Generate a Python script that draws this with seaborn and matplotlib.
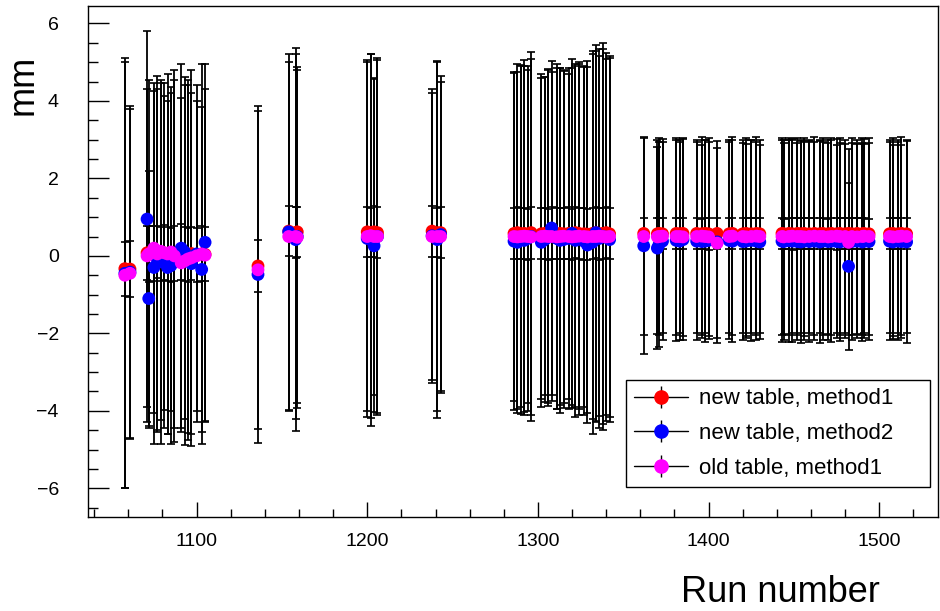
import numpy as np
import pandas as pd
import matplotlib
matplotlib.use("Agg")
import matplotlib.pyplot as plt
from matplotlib.ticker import MultipleLocator
import seaborn as sns

# ---------------- data ----------------
runs = [
    1058, 1061,
    1071, 1072, 1075, 1077, 1079, 1081, 1083, 1085, 1087, 1091, 1093, 1095, 1097, 1100, 1103, 1105,
    1136,
    1154, 1158, 1159,
    1200, 1202, 1204, 1206,
    1238, 1241, 1243,
    1286, 1288, 1290, 1292, 1294, 1296, 1302, 1304, 1306, 1308, 1311, 1313,
    1315, 1318, 1320, 1322, 1324, 1327, 1329, 1332, 1334, 1336, 1338, 1340, 1342,
    1362, 1370, 1371, 1373, 1381, 1383, 1385,
    1393, 1396, 1398, 1400, 1405,
    1412, 1414, 1420, 1422, 1425, 1428, 1430,
    1443, 1444, 1447, 1449, 1452, 1454, 1456, 1459, 1462, 1465, 1467,
    1470, 1472, 1475, 1477, 1480, 1482, 1484, 1487, 1490, 1491, 1494,
    1506, 1508, 1511, 1513, 1516,
]

red_y = [
    -0.33, -0.34,
    0.08, 0.05, 0.06, 0.10, 0.05, 0.08, 0.04, 0.02, 0.06, 0.10, 0.05, 0.03, 0.06, 0.02, 0.05, 0.04,
    -0.26,
    0.64, 0.60, 0.62,
    0.62, 0.60, 0.62, 0.60,
    0.64, 0.60, 0.60,
    0.58, 0.60, 0.57, 0.58, 0.56, 0.60, 0.57, 0.58, 0.56, 0.60, 0.57, 0.58,
    0.57, 0.58, 0.56, 0.60, 0.58, 0.57, 0.56, 0.58, 0.60, 0.57, 0.58, 0.60, 0.57,
    0.58, 0.57, 0.58, 0.57, 0.58, 0.57, 0.58,
    0.58, 0.57, 0.58, 0.57, 0.58,
    0.57, 0.58, 0.57, 0.58, 0.57, 0.58, 0.57,
    0.58, 0.57, 0.58, 0.57, 0.58, 0.57, 0.58, 0.57, 0.58, 0.57, 0.58,
    0.57, 0.58, 0.57, 0.58, 0.57, 0.58, 0.57, 0.58, 0.57, 0.58, 0.57,
    0.57, 0.58, 0.57, 0.58, 0.57,
]
red_err = [
    0.70, 0.72,
    0.70, 0.72, 0.70, 0.68, 0.70, 0.71, 0.70, 0.69, 0.70, 0.72, 0.70, 0.70, 0.69, 0.70, 0.71, 0.70,
    0.68,
    0.64, 0.65, 0.64,
    0.65, 0.64, 0.66, 0.65,
    0.66, 0.64, 0.65,
    0.66, 0.67, 0.66, 0.65, 0.66, 0.67, 0.66, 0.65, 0.66, 0.67, 0.66, 0.65,
    0.66, 0.67, 0.66, 0.65, 0.66, 0.67, 0.66, 0.65, 0.66, 0.67, 0.66, 0.65, 0.66,
    0.40, 0.40, 0.41, 0.40, 0.39, 0.40, 0.41,
    0.40, 0.39, 0.40, 0.41, 0.40,
    0.40, 0.41, 0.40, 0.39, 0.40, 0.41, 0.40,
    0.40, 0.39, 0.40, 0.41, 0.40, 0.40, 0.39, 0.40, 0.41, 0.40, 0.40,
    0.39, 0.40, 0.41, 0.40, 0.40, 0.39, 0.40, 0.41, 0.40, 0.40, 0.39,
    0.40, 0.41, 0.40, 0.39, 0.40,
]

blue_y = [
    -0.45, -0.42,
    0.95, -1.10, -0.30, -0.10, -0.15, 0.00, -0.30, -0.25, 0.05, 0.20, 0.10, -0.10, -0.20, 0.05, -0.35, 0.35,
    -0.48,
    0.62, 0.42, 0.50,
    0.45, 0.42, 0.26, 0.50,
    0.52, 0.42, 0.55,
    0.38, 0.35, 0.42, 0.40, 0.45, 0.50, 0.35, 0.42, 0.48, 0.72, 0.45, 0.40,
    0.42, 0.45, 0.58, 0.40, 0.45, 0.38, 0.28, 0.35, 0.60, 0.45, 0.50, 0.48, 0.42,
    0.26, 0.20, 0.30, 0.38, 0.40, 0.38, 0.42,
    0.38, 0.37, 0.38, 0.40, 0.36,
    0.40, 0.38, 0.37, 0.38, 0.40, 0.38, 0.36,
    0.38, 0.37, 0.39, 0.38, 0.37, 0.36, 0.38, 0.37, 0.38, 0.36, 0.38,
    0.37, 0.38, 0.37, 0.36, 0.38, -0.27, 0.37, 0.38, 0.36, 0.38, 0.37,
    0.38, 0.36, 0.38, 0.37, 0.36,
]
blue_err = [
    5.55, 4.30,
    4.85, 3.30, 4.55, 4.40, 4.70, 4.45, 4.30, 4.60, 4.50, 4.75, 4.30, 4.65, 4.40, 4.35, 4.20, 4.60,
    4.35,
    4.60, 4.95, 4.30,
    4.60, 4.80, 4.30, 4.55,
    3.80, 4.60, 4.10,
    4.35, 4.40, 4.50, 4.50, 4.45, 4.75, 4.25, 4.20, 4.35, 4.30, 4.40, 4.45,
    4.35, 4.40, 4.50, 4.55, 4.55, 4.50, 4.60, 4.95, 4.85, 4.90, 5.00, 4.75, 4.70,
    2.80, 2.60, 2.65, 2.55, 2.60, 2.55, 2.60,
    2.55, 2.50, 2.60, 2.55, 2.60,
    2.55, 2.60, 2.55, 2.50, 2.60, 2.55, 2.50,
    2.60, 2.55, 2.60, 2.60, 2.55, 2.60, 2.55, 2.60, 2.55, 2.60, 2.55,
    2.55, 2.60, 2.50, 2.55, 2.50, 2.15, 2.55, 2.50, 2.55, 2.50, 2.55,
    2.55, 2.50, 2.55, 2.50, 2.60,
]

mag_y = [
    -0.50, -0.45,
    0.00, 0.05, 0.20, 0.05, 0.12, 0.08, 0.05, 0.10, 0.00, -0.18, -0.13, -0.08, -0.05, 0.00, 0.05, 0.02,
    -0.36,
    0.50, 0.50, 0.48,
    0.50, 0.52, 0.50, 0.50,
    0.50, 0.50, 0.50,
    0.50, 0.49, 0.50, 0.51, 0.50, 0.49, 0.50, 0.51, 0.50, 0.50, 0.49, 0.50,
    0.51, 0.50, 0.49, 0.50, 0.51, 0.50, 0.49, 0.50, 0.50, 0.51, 0.50, 0.49, 0.50,
    0.50, 0.49, 0.50, 0.51, 0.50, 0.50, 0.49,
    0.50, 0.51, 0.50, 0.49, 0.33,
    0.50, 0.51, 0.50, 0.49, 0.50, 0.51, 0.50,
    0.50, 0.49, 0.50, 0.51, 0.50, 0.50, 0.49, 0.50, 0.51, 0.50, 0.50,
    0.49, 0.50, 0.51, 0.50, 0.50, 0.35, 0.50, 0.49, 0.50, 0.51, 0.50,
    0.50, 0.49, 0.50, 0.51, 0.50,
]
mag_err = [
    5.50, 4.25,
    4.30, 4.50, 4.25, 4.60, 4.35, 4.05, 4.65, 4.10, 4.80, 4.25, 4.75, 4.50, 4.85, 4.00, 4.90, 4.30,
    4.10,
    4.50, 4.70, 4.40,
    4.50, 4.70, 4.10, 4.60,
    3.70, 4.50, 4.00,
    4.25, 4.45, 4.40, 4.55, 4.30, 4.60, 4.20, 4.10, 4.30, 4.25, 4.45, 4.35,
    4.30, 4.20, 4.35, 4.40, 4.45, 4.40, 4.55, 4.70, 4.80, 4.65, 4.85, 4.60, 4.65,
    2.55, 2.50, 2.55, 2.50, 2.55, 2.50, 2.55,
    2.50, 2.55, 2.50, 2.55, 2.45,
    2.50, 2.55, 2.50, 2.55, 2.50, 2.55, 2.50,
    2.55, 2.50, 2.55, 2.50, 2.55, 2.50, 2.55, 2.50, 2.55, 2.50, 2.55,
    2.50, 2.55, 2.50, 2.55, 2.50, 2.40, 2.55, 2.50, 2.55, 2.50, 2.55,
    2.50, 2.55, 2.50, 2.55, 2.50,
]

series_names = ["new table, method1", "new table, method2", "old table, method1"]
series_colors = ["#ff0000", "#0000ff", "#ff00ff"]

# ---------------- figure ----------------
sns.set_style("white")
plt.rcParams["font.family"] = ["Liberation Sans", "DejaVu Sans"]
plt.rcParams["text.color"] = "black"
plt.rcParams["axes.labelcolor"] = "black"
plt.rcParams["xtick.color"] = "black"
plt.rcParams["ytick.color"] = "black"

fig = plt.figure(figsize=(9.4, 6.11), dpi=100)
ax = fig.add_axes([88 / 940, 94 / 611, 850 / 940, 511 / 611])

ys = [red_y, blue_y, mag_y]
errs = [red_err, blue_err, mag_err]
for y, e in zip(ys, errs):
    ax.errorbar(runs, y, yerr=e, fmt="none", ecolor="black", elinewidth=1.3,
                capsize=3, capthick=1.2, zorder=2)

df = pd.concat([
    pd.DataFrame({"run": runs, "value": y, "series": name})
    for y, name in zip(ys, series_names)
], ignore_index=True)
sns.scatterplot(data=df, x="run", y="value", hue="series",
                palette=dict(zip(series_names, series_colors)),
                s=85, linewidth=0, legend=False, ax=ax, zorder=3)

ax.set_xlim(1036.4, 1534.4)
ax.set_ylim(-6.74, 6.45)

ax.xaxis.set_major_locator(MultipleLocator(100))
ax.xaxis.set_minor_locator(MultipleLocator(20))
ax.yaxis.set_major_locator(MultipleLocator(2))
ax.yaxis.set_minor_locator(MultipleLocator(0.5))
ax.tick_params(which="both", direction="in", top=False, right=False,
               left=True, bottom=True, width=1.0, colors="black")
ax.tick_params(axis="y", which="major", length=15, labelsize=14, pad=21)
ax.tick_params(axis="y", which="minor", length=7.5)
ax.tick_params(axis="x", which="major", length=11, labelsize=14, pad=11.5)
ax.tick_params(axis="x", which="minor", length=5.5)

for sp in ax.spines.values():
    sp.set_visible(True)
    sp.set_color("black")
    sp.set_linewidth(1.0)

ax.set_xlabel("Run number", fontsize=26, loc="right", color="black")
ax.xaxis.set_label_coords(0.932, -0.113)
ax.set_ylabel("mm", fontsize=26, loc="top", color="black")
ax.yaxis.set_label_coords(-0.056, 0.904)

handles = []
for c in series_colors:
    h = ax.errorbar([np.nan], [np.nan], yerr=[1.0], fmt="-o", color="black",
                    mfc=c, mec=c, ms=9.5, lw=1.0, elinewidth=1.0, capsize=0)
    handles.append(h)
leg = ax.legend(handles, series_names, loc="upper left",
                bbox_to_anchor=(0.633, 0.059, 0.358, 0.209), mode="expand",
                frameon=True, fancybox=False, edgecolor="black", framealpha=1,
                fontsize=16, handlelength=2.4, handletextpad=0.5,
                labelspacing=0.61, borderpad=0.38, borderaxespad=0)
leg.get_frame().set_linewidth(1.0)
for t in leg.get_texts():
    t.set_color("black")

fig.savefig("out.png", dpi=100, facecolor="white")
